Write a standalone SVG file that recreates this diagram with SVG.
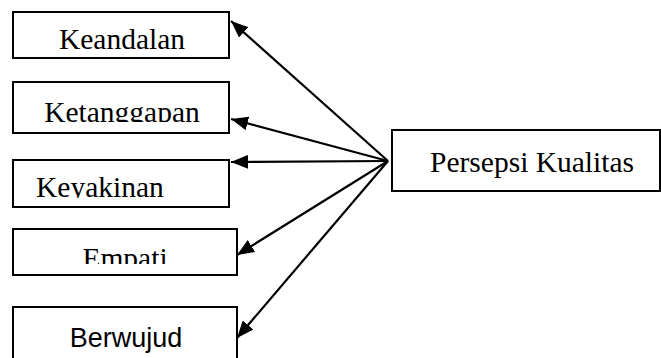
<svg xmlns="http://www.w3.org/2000/svg" width="661" height="358" viewBox="0 0 661 358">
<style>
.box{fill:#fff;stroke:#000;stroke-width:2}
.t{font-family:"Liberation Serif","Times New Roman",serif;font-size:29.5px;fill:#000}
.s{font-family:"Liberation Sans",Arial,sans-serif;font-size:27px;fill:#000}
.c{stroke:#000;stroke-width:2.2;fill:none}
</style>
<defs>
<marker id="ah" markerUnits="userSpaceOnUse" markerWidth="18" markerHeight="14" refX="17" refY="7" orient="auto">
<path d="M0,0 L17,7 L0,14 Z" fill="#000"/>
</marker>
<clipPath id="c2"><rect x="13" y="82" width="216" height="40"/></clipPath>
<clipPath id="c3"><rect x="13" y="160" width="216" height="38"/></clipPath>
<clipPath id="c4"><rect x="13" y="229" width="224" height="35"/></clipPath>
</defs>
<g id="keandalan">
<rect class="box" x="13" y="12" width="216" height="46"/>
<text class="t" x="122" y="49" text-anchor="middle">Keandalan</text>
</g>
<g id="ketanggapan">
<rect class="box" x="13" y="82" width="216" height="51"/>
<text class="t" x="122" y="122" text-anchor="middle" clip-path="url(#c2)">Ketanggapan</text>
</g>
<g id="keyakinan">
<rect class="box" x="13" y="160" width="216" height="47"/>
<text class="t" x="36" y="197" clip-path="url(#c3)">Keyakinan</text>
</g>
<g id="empati">
<rect class="box" x="13" y="229" width="224" height="46"/>
<text class="t" x="125" y="268" text-anchor="middle" clip-path="url(#c4)">Empati</text>
</g>
<g id="berwujud">
<rect class="box" x="13" y="307" width="224" height="70"/>
<text class="s" x="126" y="347" text-anchor="middle">Berwujud</text>
</g>
<g id="persepsi">
<rect class="box" x="392" y="130" width="268" height="61"/>
<text class="t" x="430" y="172">Persepsi Kualitas</text>
</g>
<g id="connectors">
<line class="c" x1="388" y1="161" x2="231" y2="21" marker-end="url(#ah)"/>
<line class="c" x1="388" y1="161" x2="231" y2="119" marker-end="url(#ah)"/>
<line class="c" x1="388" y1="161" x2="231" y2="162" marker-end="url(#ah)"/>
<line class="c" x1="388" y1="161" x2="237" y2="255" marker-end="url(#ah)"/>
<line class="c" x1="388" y1="161" x2="237" y2="338" marker-end="url(#ah)"/>
</g>
</svg>
